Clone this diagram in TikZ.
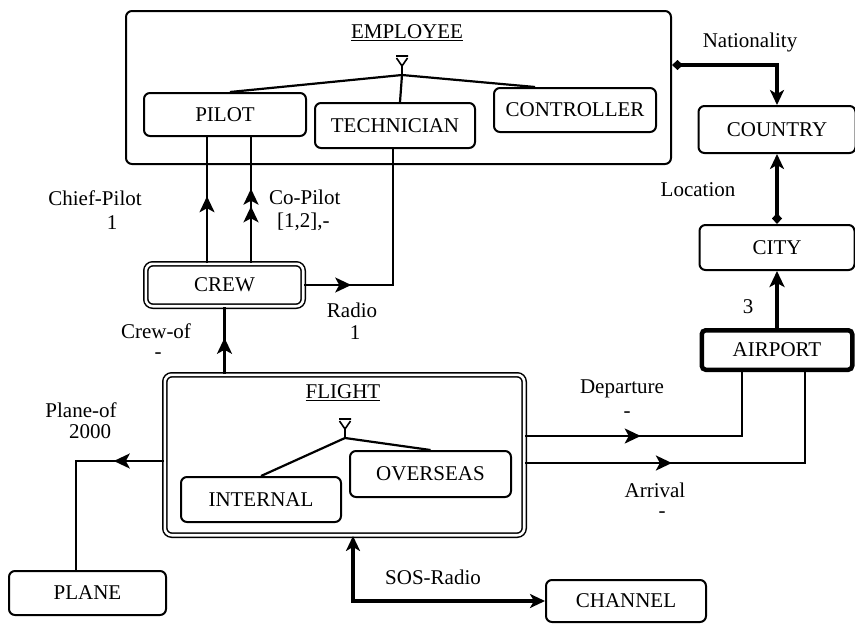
\documentclass[tikz,border=0pt]{standalone}
\usepackage{fontspec}
\setmainfont{Liberation Serif}
\usetikzlibrary{arrows.meta,decorations.markings,calc}
\tikzset{
  ent/.style={draw, rounded corners=6pt, line width=2pt, inner sep=0pt},
  dbl/.style={draw, rounded corners=7pt, line width=1.5pt, double, double distance=2.6pt, inner sep=0pt},
  conn/.style={line width=2.2pt},
  heavy/.style={line width=3.2pt},
  lbl/.style={inner sep=0pt},
  bigtip/.tip={Stealth[length=16pt,width=15pt,inset=4pt]},
  midtip/.style={postaction={decorate}, decoration={markings, mark=at position #1 with {\arrow{bigtip}}}},
  dbltip/.style 2 args={postaction={decorate}, decoration={markings,
      mark=at position #1 with {\arrow{bigtip}},
      mark=at position #2 with {\arrow{bigtip}}}},
}
\begin{document}
\begin{tikzpicture}[x=1pt,y=-1pt,font=\fontsize{21}{24}\selectfont]
\useasboundingbox[fill=white] (0,0) rectangle (855,624);

% ---------- EMPLOYEE ----------
\node[ent, minimum width=545pt, minimum height=153pt] (employee) at (398.5,87.5) {};
\node[lbl] (emptitle) at (407,33) {\underline{EMPLOYEE}};
\node[ent, minimum width=162pt, minimum height=43pt] (pilot) at (225,114.5) {PILOT};
\node[ent, minimum width=160pt, minimum height=45pt] (tech) at (395,125.5) {TECHNICIAN};
\node[ent, minimum width=162pt, minimum height=44pt] (ctrl) at (575,110) {CONTROLLER};
\coordinate (ej) at (402,75);
\draw[line width=1.6pt] (ej) -- ++(0,-9) -- ++(-5.5,-8) (ej) ++(0,-9) -- ++(5.5,-8)
  (ej) ++(-6,-19) -- ++(12,0);
\draw[conn] ([xshift=5pt]pilot.north) -- (ej) -- ([xshift=-40pt]ctrl.north);
\draw[conn] (ej) -- ([xshift=5pt]tech.north);

% ---------- right column ----------
\node[ent, minimum width=157pt, minimum height=47pt] (country) at (777,129.5) {COUNTRY};
\node[ent, minimum width=155pt, minimum height=45pt] (city) at (777,247.5) {CITY};
\node[ent, rounded corners=4pt, line width=4.5pt, minimum width=150.5pt, minimum height=39.5pt] (airport) at (777,350) {AIRPORT};

\draw[heavy, {Turned Square[length=11pt,width=10pt]}-{Stealth[length=15pt,width=14pt,inset=4pt]}]
  ([yshift=22.5pt]employee.east) -| (country.north);
\node[lbl] (lnat) at (750,42) {Nationality};
\draw[heavy, {Turned Square[length=11pt,width=10pt]}-{Stealth[length=15pt,width=14pt,inset=4pt]}]
  (city.north) -- (country.south);
\node[lbl] (lloc) at (698,190) {Location};
\draw[line width=4pt, -{Stealth[length=16pt,width=15pt,inset=4pt]}] (airport.north) -- (city.south);
\node[lbl] (lthree) at (748,307) {3};

% ---------- CREW ----------
\node[dbl, minimum width=157.4pt, minimum height=42.4pt] (crew) at (224.5,285) {CREW};
\draw[conn, midtip=0.53] ([xshift=-17.5pt]crew.north) -- ([xshift=-18pt]pilot.south);
\node[lbl] (lchief) at (95,198) {Chief-Pilot};
\node[lbl] (lchief1) at (112,223) {1};
\draw[conn, dbltip={0.45}{0.59}] ([xshift=26.5pt]crew.north) -- ([xshift=26pt]pilot.south);
\node[lbl, anchor=west] (lco) at (269,197) {Co-Pilot};
\node[lbl, anchor=west] (lco2) at (277,222) {[1,2],-};
\draw[conn, midtip=0.21] (crew.east) -| ([xshift=-2pt]tech.south);
\node[lbl] (lradio) at (352,310) {Radio};
\node[lbl] (lradio1) at (355,333) {1};

% ---------- FLIGHT ----------
\node[dbl, minimum width=359.4pt, minimum height=160.4pt] (flight) at (344.5,455) {};
\node[lbl] (fltitle) at (343,393) {\underline{FLIGHT}};
\node[ent, minimum width=160pt, minimum height=45pt] (internal) at (261,499.5) {INTERNAL};
\node[ent, minimum width=161pt, minimum height=46pt] (overseas) at (430.5,474) {OVERSEAS};
\coordinate (fj) at (345,438);
\draw[line width=1.6pt] (fj) -- ++(0,-9) -- ++(-5.5,-8) (fj) ++(0,-9) -- ++(5.5,-8)
  (fj) ++(-6,-19) -- ++(12,0);
\draw[conn] (internal.north) -- (fj) -- (overseas.north);

\draw[conn, midtip=0.54] (crew.south |- flight.north) -- (crew.south);
\node[lbl] (lcrewof) at (156,331) {Crew-of};
\node[lbl] (lcrewof2) at (158,356) {-};

% ---------- PLANE ----------
\node[ent, minimum width=157pt, minimum height=44pt] (plane) at (87.5,593) {PLANE};
\draw[conn, midtip=0.255] ([yshift=-6pt]flight.west) -| ([xshift=-11.5pt]plane.north);
\node[lbl] (lplaneof) at (81,410) {Plane-of};
\node[lbl] (lplaneof2) at (90,432) {2000};

% ---------- Departure / Arrival ----------
\draw[conn, midtip=0.412] ([yshift=19pt]flight.east) -| ([xshift=-35pt]airport.south);
\node[lbl] (ldep) at (622,389) {Departure};
\node[lbl] (ldep2) at (627,415) {-};
\draw[conn, midtip=0.396] ([yshift=-8pt]flight.east) -| ([xshift=28pt]airport.south);
\node[lbl] (larr) at (655,490) {Arrival};
\node[lbl] (larr2) at (662,515) {-};

% ---------- CHANNEL ----------
\node[ent, minimum width=160pt, minimum height=42pt] (channel) at (626,601) {CHANNEL};
\draw[heavy, {Stealth[length=15pt,width=14pt,inset=4pt]}-{Stealth[length=15pt,width=14pt,inset=4pt]}]
  ([xshift=8.5pt]flight.south) |- (channel.west);
\node[lbl] (lsos) at (433,577) {SOS-Radio};
\end{tikzpicture}
\end{document}
